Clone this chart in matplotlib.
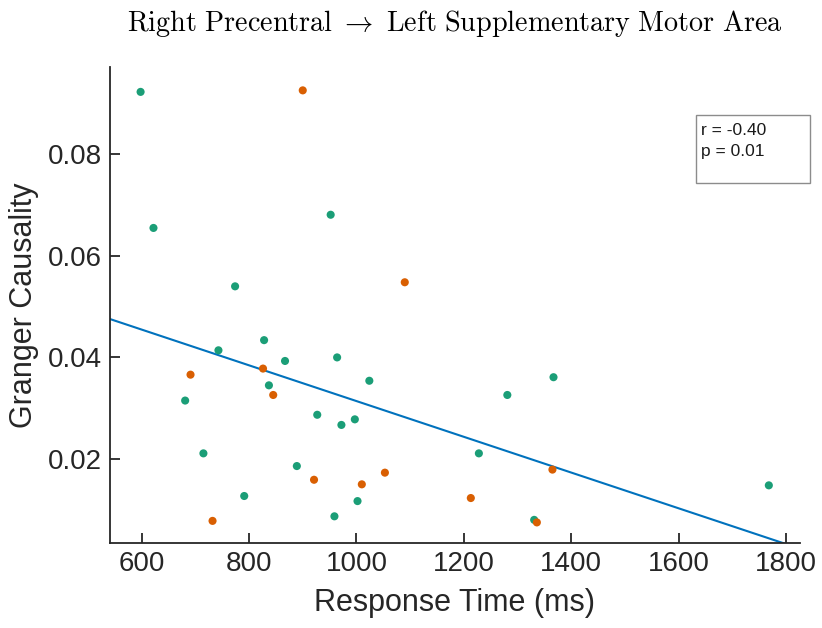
import numpy as np
import matplotlib.pyplot as plt

plt.rcParams['font.family'] = ['Liberation Sans', 'DejaVu Sans']
plt.rcParams['mathtext.fontset'] = 'cm'

# Response time (ms) and Granger causality, two groups
rt_green = [598, 622, 952, 774, 743, 828, 867, 964, 837, 1024, 681, 927,
            972, 997, 715, 889, 791, 1002, 959, 1367, 1281, 1228, 1331, 1768]
gc_green = [0.0923, 0.0655, 0.0681, 0.0540, 0.0414, 0.0434, 0.0393, 0.0400,
            0.0345, 0.0354, 0.0315, 0.0287, 0.0267, 0.0278, 0.0211, 0.0186,
            0.0127, 0.0117, 0.0087, 0.0361, 0.0326, 0.0211, 0.0080, 0.0148]
rt_orange = [900, 1090, 691, 826, 845, 921, 1053, 1010, 732, 1213, 1365, 1336]
gc_orange = [0.0926, 0.0548, 0.0366, 0.0378, 0.0326, 0.0159, 0.0173, 0.0150,
             0.0078, 0.0123, 0.0179, 0.0075]

r_text = 'r = -0.40\np = 0.01'

# linear fit over all points
x_all = np.array(rt_green + rt_orange)
y_all = np.array(gc_green + gc_orange)
slope, intercept = np.polyfit(x_all, y_all, 1)

fig = plt.figure(figsize=(8.22, 6.28), dpi=100)
ax = fig.add_axes([0.1338, 0.1354, 0.8394, 0.7579])

ax.scatter(rt_green, gc_green, s=34, color='#1b9e77', edgecolors='none', zorder=3)
ax.scatter(rt_orange, gc_orange, s=34, color='#d95f02', edgecolors='none', zorder=3)

xlim = (541, 1826)
ylim = (0.00345, 0.0972)
xs = np.array(xlim)
ax.plot(xs, slope * xs + intercept, color='#0072BD', lw=1.5, zorder=2)

ax.set_xlim(xlim)
ax.set_ylim(ylim)
ax.set_xticks([600, 800, 1000, 1200, 1400, 1600, 1800])
ax.set_yticks([0.02, 0.04, 0.06, 0.08])
ax.set_yticklabels(['0.02', '0.04', '0.06', '0.08'])

for s in ['top', 'right']:
    ax.spines[s].set_visible(False)
for s in ['left', 'bottom']:
    ax.spines[s].set_color('#262626')
    ax.spines[s].set_linewidth(1.3)
ax.tick_params(direction='in', length=7, width=1.3, colors='#262626',
               labelsize=20, labelcolor='#262626', pad=6)

ax.set_xlabel('Response Time (ms)', fontsize=22, color='#262626', labelpad=8)
ax.set_ylabel('Granger Causality', fontsize=22, color='#262626', labelpad=6)

fig.text(0.553, 0.963,
         r'$\mathrm{Right\ Precentral}\ \rightarrow\ \mathrm{Left\ Supplementary\ Motor\ Area}$',
         ha='center', va='center', fontsize=20.3)

# stats box
box = plt.Rectangle((0.8467, 0.7086), 0.1387, 0.1083, transform=fig.transFigure,
                    facecolor='white', edgecolor='#8c8c8c', lw=1)
fig.patches.append(box)
fig.text(0.8525, 0.804, r_text, ha='left', va='top', fontsize=12.5,
         linespacing=1.5, color='#1a1a1a')

fig.savefig('out.png', dpi=100)
